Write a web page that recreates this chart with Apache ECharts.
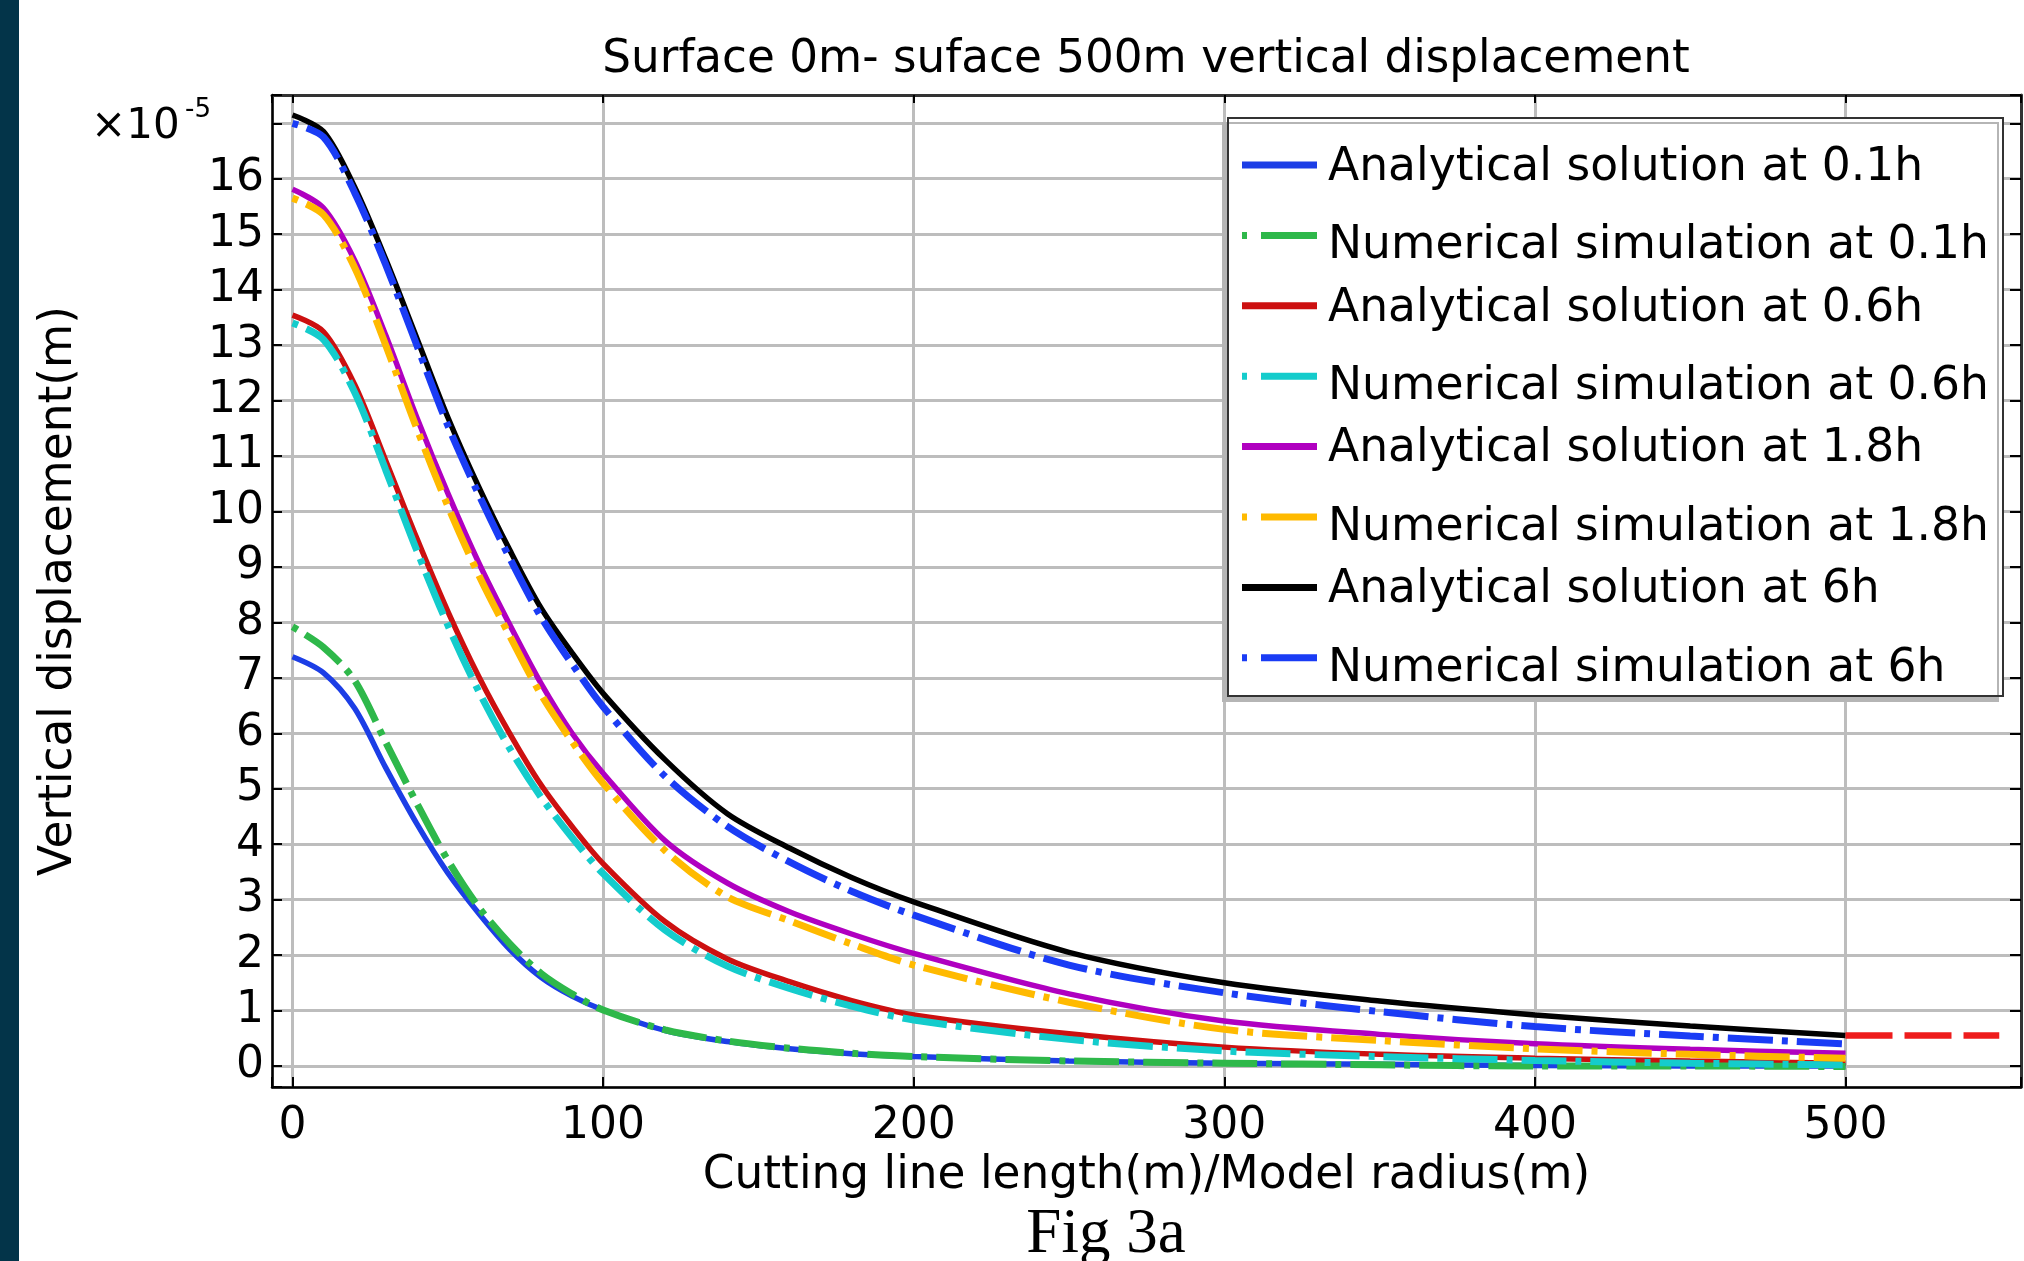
<!DOCTYPE html>
<html>
<head>
<meta charset="utf-8">
<script src="https://cdn.jsdelivr.net/npm/echarts@6/dist/echarts.min.js"></script>
<style>html,body{margin:0;padding:0;background:#fff}#c{width:2024px;height:1261px}</style>
</head>
<body>
<div id="c"></div>
<script>
// Cutting line length (m)
const xs = [0, 10, 20, 30, 40, 50, 60, 70, 80, 90, 100, 120, 140, 160, 180, 200, 250, 300, 350, 400, 450, 500];
// Vertical displacement, in units of 1e-5 m
const ana01 = [7.38, 7.09, 6.45, 5.38, 4.37, 3.48, 2.75, 2.10, 1.60, 1.26, 1.01, 0.64, 0.44, 0.31, 0.22, 0.17, 0.09, 0.05, 0.03, 0.01, 0.00, 0.00];
const num01 = [7.92, 7.55, 6.95, 5.84, 4.74, 3.71, 2.86, 2.20, 1.67, 1.30, 1.01, 0.65, 0.45, 0.32, 0.23, 0.17, 0.09, 0.05, 0.02, 0.00, 0.00, -0.01];
const ana06 = [13.54, 13.24, 12.29, 10.92, 9.52, 8.20, 7.02, 5.99, 5.07, 4.32, 3.65, 2.60, 1.93, 1.52, 1.18, 0.92, 0.58, 0.34, 0.21, 0.14, 0.09, 0.05];
const num06 = [13.40, 13.10, 12.15, 10.75, 9.30, 7.95, 6.75, 5.72, 4.85, 4.12, 3.47, 2.45, 1.80, 1.40, 1.08, 0.83, 0.48, 0.27, 0.17, 0.10, 0.05, 0.02];
const ana18 = [15.81, 15.47, 14.53, 13.18, 11.70, 10.33, 9.07, 7.95, 6.90, 6.00, 5.28, 4.06, 3.30, 2.78, 2.38, 2.03, 1.30, 0.81, 0.57, 0.40, 0.30, 0.23];
const num18 = [15.65, 15.35, 14.40, 13.00, 11.50, 10.10, 8.85, 7.75, 6.70, 5.85, 5.10, 3.88, 3.05, 2.62, 2.20, 1.82, 1.15, 0.66, 0.46, 0.31, 0.21, 0.14];
const ana6  = [17.15, 16.85, 15.85, 14.55, 13.13, 11.70, 10.44, 9.30, 8.26, 7.45, 6.72, 5.52, 4.55, 3.93, 3.40, 2.96, 2.05, 1.50, 1.17, 0.92, 0.72, 0.55];
const num6  = [17.00, 16.75, 15.75, 14.45, 13.00, 11.55, 10.30, 9.15, 8.10, 7.25, 6.48, 5.22, 4.32, 3.68, 3.15, 2.72, 1.82, 1.32, 0.98, 0.71, 0.54, 0.40];
// red dashed continuation beyond the model radius
const extX = [500, 549.5];
const extY = [0.55, 0.55];

const seriesNames = [
  'Analytical solution at 0.1h', 'Numerical simulation at 0.1h',
  'Analytical solution at 0.6h', 'Numerical simulation at 0.6h',
  'Analytical solution at 1.8h', 'Numerical simulation at 1.8h',
  'Analytical solution at 6h', 'Numerical simulation at 6h'
];
const seriesValues = [ana01, num01, ana06, num06, ana18, num18, ana6, num6];
const seriesColors = ['#1c3ee6', '#2eb84a', '#cc1010', '#14cccc', '#b000c0', '#ffba00', '#000000', '#1a3cf5'];

const titleText = 'Surface 0m- suface 500m vertical displacement';
const xName = 'Cutting line length(m)/Model radius(m)';
const yName = 'Vertical displacement(m)';
const figLabel = 'Fig 3a';

const FONT = '"DejaVu Sans", Verdana, sans-serif';

function pts(ys) { return xs.map((x, i) => [x, ys[i]]); }

const series = seriesNames.map((name, i) => {
  const numerical = i % 2 === 1;
  return {
    name: name,
    type: 'line',
    data: pts(seriesValues[i]),
    symbol: 'none',
    showSymbol: false,
    smooth: 0.3,
    z: numerical ? 3 : 2,
    itemStyle: { color: seriesColors[i] },
    lineStyle: numerical
      ? { color: seriesColors[i], width: 7, type: [45, 9, 6, 9], dashOffset: 54 }
      : { color: seriesColors[i], width: 5.5, type: 'solid' }
  };
});
series.push({
  name: 'ext',
  type: 'line',
  data: extX.map((x, i) => [x, extY[i]]),
  symbol: 'none',
  showSymbol: false,
  z: 2,
  lineStyle: { color: '#ee1c1c', width: 6.5, type: [47, 12] }
});

function isInt(v) { return Math.abs(v - Math.round(v)) < 1e-6; }

const gridCol = '#bdbdbd';
const frameX = { min: -6.6, max: 556.5, minInterval: 100, maxInterval: 100 };
const frameY = { min: -0.379, max: 17.51, minInterval: 1, maxInterval: 1 };

// legend drawn as graphic (box, line samples, text)
const LEG = { x: 1228, y: 118, w: 775, h: 578, iconX: 1242, iconW: 75, textX: 1328, row0: 165, rowStep: 70.4 };
const legendGraphics = [
  { type: 'rect', shape: { x: LEG.x, y: LEG.y, width: LEG.w, height: LEG.h },
    style: { fill: '#fff', stroke: '#333', lineWidth: 2, shadowColor: '#b5b5b5', shadowOffsetX: -5, shadowOffsetY: 5, shadowBlur: 0 }, z: 50 }
];
seriesNames.forEach((name, i) => {
  const numerical = i % 2 === 1;
  const yc = LEG.row0 + i * LEG.rowStep;
  legendGraphics.push({
    type: 'line', shape: { x1: LEG.iconX, y1: yc, x2: LEG.iconX + LEG.iconW, y2: yc },
    style: { stroke: seriesColors[i], lineWidth: 7, lineDash: numerical ? [5, 14, 56, 40] : null }, z: 51
  });
  legendGraphics.push({
    type: 'text', x: LEG.textX, y: yc + (numerical ? 11 : 3),
    style: { text: name, fontFamily: FONT, fontSize: 45.6, fill: '#000', align: 'left', verticalAlign: 'middle' }, z: 51
  });
});

const option = {
  animation: false,
  backgroundColor: '#ffffff',
  title: {
    text: titleText, left: 1141, textAlign: 'center', top: 33,
    textStyle: { fontFamily: FONT, fontSize: 45.3, fontWeight: 'normal', color: '#000' }
  },
  grid: { left: 272, top: 95, width: 1756, height: 992, containLabel: false },
  xAxis: [
    Object.assign({
      type: 'value', position: 'bottom',
      axisLine: { show: true, onZero: false, lineStyle: { color: '#000', width: 2.5 } },
      axisTick: { show: true, inside: true, length: 10, lineStyle: { color: '#000', width: 2 } },
      axisLabel: {
        fontFamily: FONT, fontSize: 44, color: '#000', margin: 18,
        formatter: v => (isInt(v / 100) && v >= 0 && v <= 500) ? String(Math.round(v)) : ''
      },
      splitLine: { show: true, lineStyle: { color: gridCol, width: 3 } },
      name: xName, nameLocation: 'middle', nameGap: 59,
      nameTextStyle: { fontFamily: FONT, fontSize: 45.4, color: '#000' }
    }, frameX),
    Object.assign({
      type: 'value', position: 'top',
      axisLine: { show: true, onZero: false, lineStyle: { color: '#333', width: 3 } },
      axisTick: { show: true, inside: true, length: 8, lineStyle: { color: '#000', width: 2 } },
      axisLabel: { show: false },
      splitLine: { show: false }
    }, frameX)
  ],
  yAxis: [
    Object.assign({
      type: 'value', position: 'left',
      axisLine: { show: true, onZero: false, lineStyle: { color: '#000', width: 2.5 } },
      axisTick: { show: true, inside: true, length: 10, lineStyle: { color: '#000', width: 2 } },
      axisLabel: {
        fontFamily: FONT, fontSize: 44, color: '#000', margin: 8, padding: [7, 0, 0, 0],
        formatter: v => (isInt(v) && v >= 0 && v <= 16) ? String(Math.round(v)) : ''
      },
      splitLine: { show: true, lineStyle: { color: gridCol, width: 3 } },
      name: yName, nameLocation: 'middle', nameGap: 190,
      nameTextStyle: { fontFamily: FONT, fontSize: 45.4, color: '#000' }
    }, frameY),
    Object.assign({
      type: 'value', position: 'right',
      axisLine: { show: true, onZero: false, lineStyle: { color: '#333', width: 3 } },
      axisTick: { show: true, inside: true, length: 11, lineStyle: { color: '#000', width: 2 } },
      axisLabel: { show: false },
      splitLine: { show: false }
    }, frameY)
  ],
  graphic: [
    { type: 'rect', shape: { x: 0, y: 0, width: 19, height: 1261 }, style: { fill: '#033449' }, z: 100 },
    { type: 'text', x: 91, y: 127, style: { text: '×10', fontFamily: FONT, fontSize: 42, fill: '#000', align: 'left', verticalAlign: 'middle' }, z: 100 },
    { type: 'text', x: 185, y: 110, style: { text: '-5', fontFamily: FONT, fontSize: 26, fill: '#000', align: 'left', verticalAlign: 'middle' }, z: 100 },
    { type: 'text', x: 1106, y: 1235, style: { text: figLabel, fontFamily: '"Liberation Serif", "Times New Roman", serif', fontSize: 63, fill: '#000', align: 'center', verticalAlign: 'middle' }, z: 100 }
  ].concat(legendGraphics),
  series: series
};

const chart = echarts.init(document.getElementById('c'), null, { renderer: 'canvas' });
chart.setOption(option);
</script>
</body>
</html>
